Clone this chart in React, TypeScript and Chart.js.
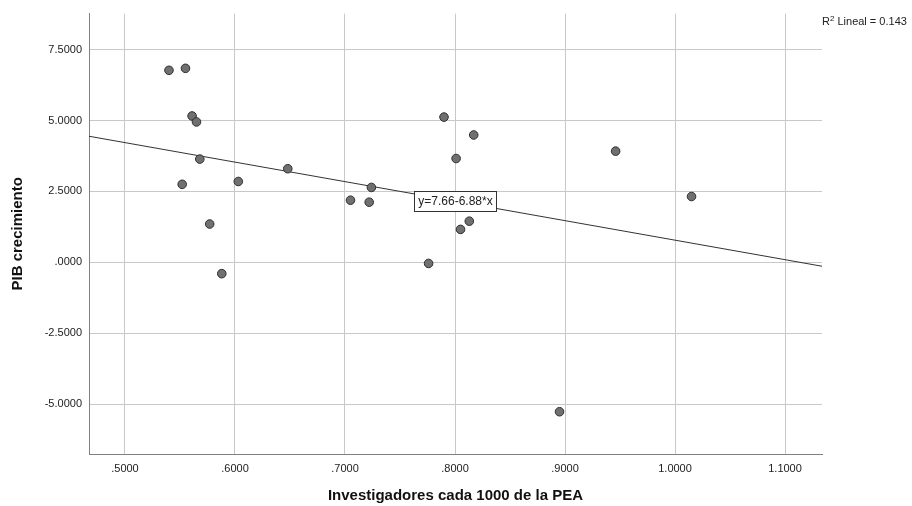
import React, { useEffect, useRef } from "react";
import { Chart, registerables } from "chart.js";

Chart.register(...registerables);

// Scatter points: Investigadores cada 1000 de la PEA (x) vs PIB crecimiento (y)
const investigadores = [
  0.540, 0.555, 0.561, 0.565, 0.568, 0.552, 0.603, 0.577, 0.588, 0.648,
  0.705, 0.722, 0.724, 0.790, 0.801, 0.817, 0.813, 0.805, 0.776, 0.895,
  0.946, 1.015,
];
const pibCrecimiento = [
  6.77, 6.84, 5.16, 4.95, 3.64, 2.75, 2.85, 1.35, -0.40, 3.30,
  2.19, 2.12, 2.64, 5.12, 3.66, 4.49, 1.45, 1.16, -0.04, -5.27,
  3.92, 2.32,
];

// Linear fit shown in the chart
const fitIntercept = 7.66;
const fitSlope = -6.88;
const fitLabel = "y=7.66-6.88*x";
const fitLabelAtX = 0.8;
const r2Value = "0.143";

// Axes
const xMin = 0.4673;
const xMax = 1.1336;
const yMin = -6.76;
const yMax = 8.77;
const xTickValues = [0.5, 0.6, 0.7, 0.8, 0.9, 1.0, 1.1];
const xTickLabels = [".5000", ".6000", ".7000", ".8000", ".9000", "1.0000", "1.1000"];
const yTickValues = [-5, -2.5, 0, 2.5, 5, 7.5];
const yTickLabels = ["-5.0000", "-2.5000", ".0000", "2.5000", "5.0000", "7.5000"];
const xTitle = "Investigadores cada 1000 de la PEA";
const yTitle = "PIB crecimiento";

const FONT = '"Liberation Sans", Arial, Helvetica, sans-serif';

export default function App() {
  const canvasRef = useRef<HTMLCanvasElement | null>(null);

  useEffect(() => {
    const canvas = canvasRef.current;
    if (!canvas) return;

    const points = investigadores.map((x, i) => ({ x, y: pibCrecimiento[i] }));
    const fitLine = [xMin, xMax].map((x) => ({ x, y: fitIntercept + fitSlope * x }));

    const textPlugin = {
      id: "spssText",
      afterDraw(chart: any) {
        const { ctx, chartArea, scales } = chart;
        ctx.save();
        // Axis titles
        ctx.fillStyle = "#111";
        ctx.font = `bold 15px ${FONT}`;
        ctx.textAlign = "center";
        ctx.textBaseline = "middle";
        ctx.fillText(xTitle, (chartArea.left + chartArea.right) / 2, 496);
        ctx.save();
        ctx.translate(18, (chartArea.top + chartArea.bottom) / 2);
        ctx.rotate(-Math.PI / 2);
        ctx.fillText(yTitle, 0, 0);
        ctx.restore();

        // Fit label box
        const lx = scales.x.getPixelForValue(fitLabelAtX);
        const ly = scales.y.getPixelForValue(fitIntercept + fitSlope * fitLabelAtX);
        ctx.font = `12px ${FONT}`;
        const tw = ctx.measureText(fitLabel).width;
        const bw = Math.round(tw + 8);
        const bh = 20;
        const bx = Math.round(lx - bw / 2) + 0.5;
        const by = Math.round(ly - bh / 2) + 0.5;
        ctx.fillStyle = "#fff";
        ctx.fillRect(bx, by, bw, bh);
        ctx.strokeStyle = "#333";
        ctx.lineWidth = 1;
        ctx.strokeRect(bx, by, bw, bh);
        ctx.fillStyle = "#222";
        ctx.textAlign = "center";
        ctx.textBaseline = "middle";
        ctx.fillText(fitLabel, bx + bw / 2, by + bh / 2 + 0.5);

        // R² annotation
        ctx.textAlign = "left";
        ctx.textBaseline = "alphabetic";
        let tx = chartArea.right;
        const base = 25;
        ctx.font = `11px ${FONT}`;
        ctx.fillText("R", tx, base);
        tx += ctx.measureText("R").width;
        ctx.font = `8px ${FONT}`;
        ctx.fillText("2", tx, base - 4);
        tx += ctx.measureText("2").width;
        ctx.font = `11px ${FONT}`;
        ctx.fillText(" Lineal = " + r2Value, tx, base);
        ctx.restore();
      },
    };

    const chart = new Chart(canvas, {
      type: "scatter",
      data: {
        datasets: [
          {
            type: "line",
            data: fitLine,
            borderColor: "#333",
            borderWidth: 1,
            pointRadius: 0,
            fill: false,
            order: 2,
          } as any,
          {
            type: "scatter",
            data: points,
            backgroundColor: "#707070",
            borderColor: "#2e2e2e",
            borderWidth: 1,
            pointRadius: 4.3,
            order: 1,
          },
        ],
      },
      options: {
        responsive: false,
        animation: false,
        events: [],
        layout: { padding: { left: 0, right: 90, top: 10, bottom: 0 } },
        plugins: {
          legend: { display: false },
          tooltip: { enabled: false },
          title: { display: false },
        },
        scales: {
          x: {
            type: "linear",
            min: xMin,
            max: xMax,
            afterBuildTicks(scale: any) {
              scale.ticks = xTickValues.map((v) => ({ value: v }));
            },
            afterFit(scale: any) {
              scale.height = 52;
            },
            grid: { color: "#c8c8c8", lineWidth: 1, drawTicks: false },
            border: { color: "#808080", width: 1 },
            ticks: {
              padding: 8,
              color: "#222",
              font: { family: FONT, size: 11 },
              maxRotation: 0,
              autoSkip: false,
              callback: (_v: any, i: number) => xTickLabels[i],
            },
          },
          y: {
            type: "linear",
            min: yMin,
            max: yMax,
            afterBuildTicks(scale: any) {
              scale.ticks = yTickValues.map((v) => ({ value: v }));
            },
            afterFit(scale: any) {
              scale.width = 89;
            },
            grid: { color: "#c8c8c8", lineWidth: 1, drawTicks: false },
            border: { color: "#808080", width: 1 },
            ticks: {
              padding: 7,
              color: "#222",
              font: { family: FONT, size: 11 },
              autoSkip: false,
              callback: (_v: any, i: number) => yTickLabels[i],
            },
          },
        },
      },
      plugins: [textPlugin],
    } as any);

    return () => chart.destroy();
  }, []);

  return (
    <div style={{ position: "fixed", left: 0, top: 0, width: 912, height: 506, background: "#fff" }}>
      <canvas ref={canvasRef} width={912} height={506} style={{ width: 912, height: 506, display: "block" }} />
    </div>
  );
}
